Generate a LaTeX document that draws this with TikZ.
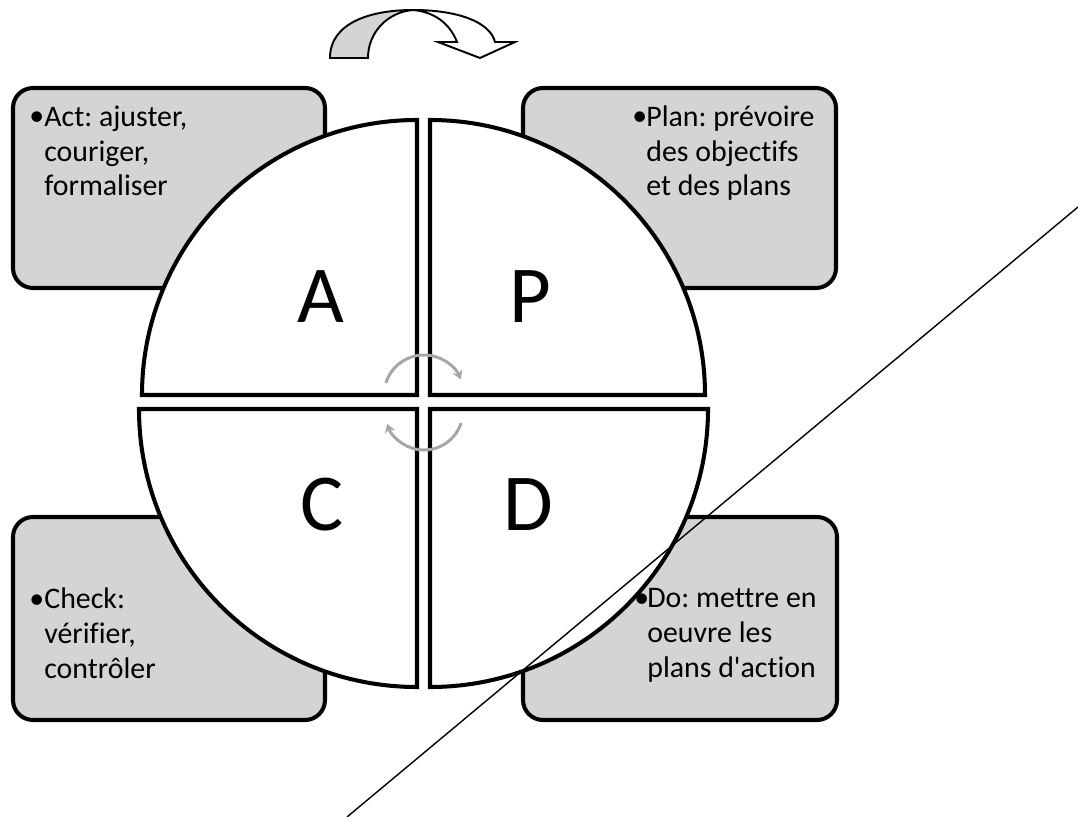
\documentclass[tikz,border=0pt]{standalone}
\usepackage{fontspec}
\newfontfamily\carlito{Carlito}[Ligatures={NoCommon,NoRequired}]
\usetikzlibrary{arrows.meta}
\definecolor{boxgray}{RGB}{212,212,212}
\definecolor{cyclegray}{RGB}{166,166,166}
\frenchspacing
\begin{document}
\begin{tikzpicture}[x=0.02cm, y=-0.02cm,
  infobox/.style={draw=black, line width=2.3pt, fill=boxgray, rounded corners=0.4cm},
  quarter/.style={draw=black, line width=2.3pt, fill=white, line join=miter},
  boxtext/.style={anchor=base west, align=left, inner sep=0pt,
    font=\carlito\fontsize{17}{19.9}\selectfont},
  bullet/.style={anchor=base west, inner sep=0pt, font=\carlito\fontsize{17}{19.9}\selectfont},
  letter/.style={anchor=base, inner sep=0pt, font=\carlito\fontsize{46}{50}\selectfont},
  cyclearrow/.style={draw=cyclegray, line width=1.7pt, -{Stealth[length=5pt,width=6pt]}},
  bigarrow/.style={draw=black, line width=1.1pt, line join=miter}
]
\useasboundingbox (0,0) rectangle (1078,817);

% the four rounded boxes behind the circle
\path[infobox] (13,88) rectangle (325,288);
\path[infobox] (523,88) rectangle (836,288);
\path[infobox] (13,517) rectangle (325,720);
\path[infobox] (523,517) rectangle (837,720);

% the circle, cut into four separated quarters
\def\R{275}
\def\Rb{278}
\path[quarter] (417,395) -- ++(-\R,0) arc[start angle=180, end angle=270, radius=\R] -- cycle;
\path[quarter] (430,395) -- ++(0,-\R) arc[start angle=270, end angle=360, radius=\R] -- cycle;
\path[quarter] (430,409) -- ++(\Rb,0) arc[start angle=0, end angle=90, radius=\Rb] -- cycle;
\path[quarter] (417,409) -- ++(0,\Rb) arc[start angle=90, end angle=180, radius=\Rb] -- cycle;

% quarter letters
\node[letter] (qa) at (321,323) {A};
\node[letter] (qp) at (530,323) {P};
\node[letter] (qc) at (322,530) {C};
\node[letter] (qd) at (528,530) {D};

% box texts (a multi-line node sits on the baseline of its last line)
\node[bullet] (ba) at (29,126) {•};
\node[boxtext] (ta) at (44,196) {Act: ajuster,\\couriger,\\formaliser};
\node[bullet] (bp) at (632,126) {•};
\node[boxtext] (tp) at (646,196) {Plan: prévoire\\des objectifs\\et des plans};
\node[bullet] (bc) at (29,608) {•};
\node[boxtext] (tc) at (44,678) {Check:\\vérifier,\\contrôler};
\node[bullet] (bd) at (634,607) {•};
\node[boxtext] (td) at (647,677) {Do: mettre en\\oeuvre les\\plans d'action};

% cycling arrows at the centre
\draw[cyclearrow] (424,395) ++(197.5:40) arc[start angle=197.5, end angle=337, radius=40];
\draw[cyclearrow] (424,411) ++(18:39) arc[start angle=18, end angle=161, radius=39];

% curved arrow above the circle
\filldraw[bigarrow, fill=boxgray] (330,58) .. controls (330,22) and (372,10) .. (413,10)
  .. controls (388,12) and (368,32) .. (368,58) -- cycle;
\filldraw[bigarrow, fill=white] (413,10) .. controls (458,10) and (490,22) .. (495,42)
  -- (515,42) -- (480,58) -- (438,42) -- (457,42)
  .. controls (450,24) and (435,12) .. (413,10) -- cycle;

% thin diagonal line across the figure
\coordinate (lineTop) at (1078,207);
\coordinate (lineBot) at (347,817);
\draw[black, line width=0.8pt] (lineTop) -- (lineBot);
\end{tikzpicture}
\end{document}
